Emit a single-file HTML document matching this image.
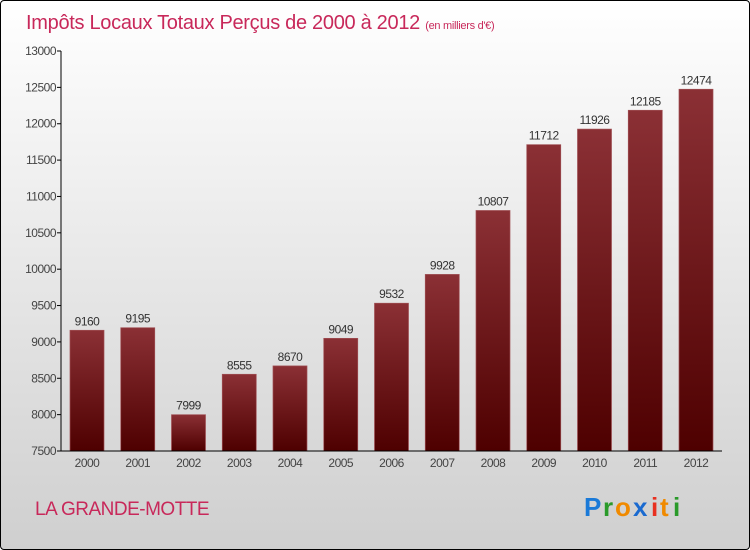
<!DOCTYPE html>
<html><head><meta charset="utf-8"><style>
body{margin:0}
#c{position:relative;width:748px;height:548px;border:1px solid #000;border-radius:4px;background:linear-gradient(#fff,#cfcfcf);overflow:hidden;font-family:"Liberation Sans",sans-serif}
</style></head><body>
<div id="c">
<svg width="748" height="548" id="s">
<defs><linearGradient id="bg" x1="0" y1="0" x2="0" y2="1"><stop offset="0" stop-color="#8b3035"/><stop offset="1" stop-color="#4e0000"/></linearGradient></defs>
<text x="25" y="28" font-size="20" fill="#c8285a" letter-spacing="-0.3">Impôts Locaux Totaux Perçus de 2000 à 2012 <tspan font-size="11">(en milliers d'€)</tspan></text>
<text x="34" y="514" font-size="19" fill="#c8285a" letter-spacing="-0.5">LA GRANDE-MOTTE</text>
<g font-size="26" font-weight="bold" font-family="'Liberation Sans',sans-serif"><text x="583" y="515" fill="#1a7ad8">P</text><text x="602" y="515" fill="#2a9a2a">r</text><text x="614" y="515" fill="#f08a00">o</text><text x="632" y="515" fill="#1a6ad0">x</text><text x="650" y="515" fill="#e83020">i</text><text x="659" y="515" fill="#f08a00">t</text><text x="672" y="515" fill="#2a9a2a">i</text></g>
</svg>
</div>
<script>
const years=["2000","2001","2002","2003","2004","2005","2006","2007","2008","2009","2010","2011","2012"];
const values=[9160,9195,7999,8555,8670,9049,9532,9928,10807,11712,11926,12185,12474];
const ticks=[7500,8000,8500,9000,9500,10000,10500,11000,11500,12000,12500,13000];
const s=document.getElementById('s'),NS="http://www.w3.org/2000/svg";
const y=v=>450-(v-7500)*400/5500, x=i=>86+i*50.75;
function mk(t,a,txt){const e=document.createElementNS(NS,t);for(const k in a)e.setAttribute(k,a[k]);if(txt!=null)e.textContent=txt;s.appendChild(e);return e;}
ticks.forEach(t=>{
 const l=mk('line',{x1:56,x2:60,y1:y(t),y2:y(t),stroke:'#000'});
 
 
 const tx=mk('text',{x:55,y:y(t)+4,'font-size':12,fill:'#444','text-anchor':'end','letter-spacing':'-0.5'},t);
 
 
});
values.forEach((v,i)=>{
 const r=mk('rect',{x:x(i)-17,y:y(v),width:34,height:450-y(v),fill:'url(#bg)',stroke:'#a05055','stroke-width':0.7});
 
 
 const lv=mk('text',{x:x(i),y:y(v)-5,'font-size':12,fill:'#333','text-anchor':'middle','letter-spacing':'-0.5'},v);
 
 
 const ly=mk('text',{x:x(i),y:466,'font-size':12,fill:'#444','text-anchor':'middle','letter-spacing':'-0.5'},years[i]);
 
 
});
const ax=mk('line',{x1:60,x2:60,y1:50,y2:450,stroke:'#000'});


const bx=mk('line',{x1:60,x2:721,y1:450,y2:450,stroke:'#000'});


</script>
</body></html>
